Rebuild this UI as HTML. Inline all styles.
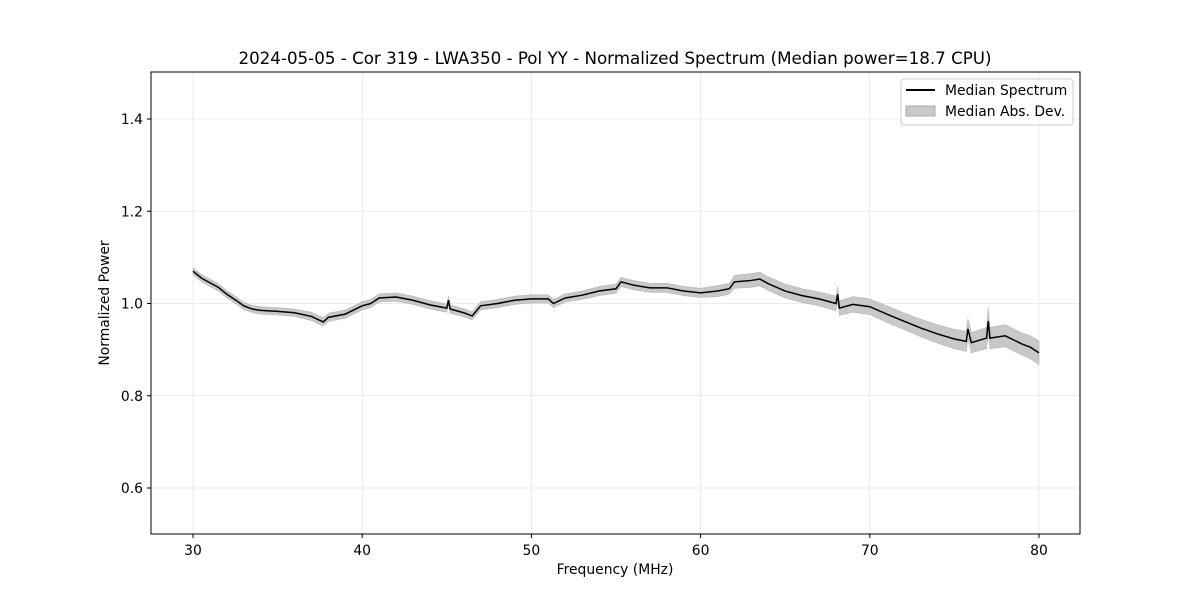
<!DOCTYPE html>
<html><head><meta charset="utf-8"><style>
body{margin:0;background:#fff;}
svg text{font-family:"DejaVu Sans","Liberation Sans",sans-serif;}
</style></head><body>
<svg id="chart" width="1200" height="600" xmlns="http://www.w3.org/2000/svg">
<rect width="1200" height="600" fill="#fff"/>
<text x="615" y="64" text-anchor="middle" font-size="16.7">2024-05-05 - Cor 319 - LWA350 - Pol YY - Normalized Spectrum (Median power=18.7 CPU)</text>
<g id="grid"></g>
<g id="band"></g>
<g id="line"></g>
<rect x="151" y="72" width="929" height="462" fill="none" stroke="#000" stroke-width="1"/>
<g id="ticks"></g>
<text x="615" y="574" text-anchor="middle" font-size="13.9">Frequency (MHz)</text>
<text transform="translate(109,303) rotate(-90)" text-anchor="middle" font-size="13.9">Normalized Power</text>
<g>
<rect x="901" y="79" width="172" height="46" rx="3" fill="#fff" stroke="#ccc" fill-opacity="0.8"/>
<line x1="906" y1="90" x2="935" y2="90" stroke="#000" stroke-width="2"/>
<text x="945" y="95" font-size="13.9">Median Spectrum</text>
<rect x="906" y="106" width="29" height="10" fill="#c8c8c8" stroke="#aaa"/>
<text x="945" y="116" font-size="13.9">Median Abs. Dev.</text>
</g>
</svg>
<script>
const freqs=[30,30.5,31,31.5,32,32.5,33,33.5,34,35,36,37,37.7,38,39,40,40.5,41,42,43,44,45,45.1,45.2,46,46.5,47,48,49,50,51,51.3,52,53,54,55,55.3,56,57,58,59,60,61,61.7,62,63,63.5,64,65,66,67,68,68.1,68.2,69,70,71,72,73,74,75,75.7,75.8,76,76.9,77,77.1,78,79,79.5,80];
const power=[1.07,1.055,1.045,1.035,1.02,1.008,0.995,0.988,0.985,0.983,0.98,0.972,0.96,0.97,0.977,0.995,1.0,1.012,1.014,1.007,0.997,0.99,1.007,0.988,0.98,0.973,0.995,1.0,1.007,1.01,1.01,1.0,1.012,1.018,1.027,1.032,1.047,1.04,1.034,1.034,1.027,1.023,1.027,1.032,1.047,1.05,1.053,1.043,1.027,1.017,1.01,1.0,1.02,0.99,0.998,0.993,0.977,0.962,0.947,0.934,0.923,0.918,0.945,0.915,0.925,0.962,0.925,0.93,0.912,0.905,0.893];
const mad=[0.008,0.008,0.008,0.008,0.008,0.008,0.008,0.008,0.008,0.008,0.008,0.009,0.009,0.009,0.009,0.009,0.009,0.009,0.009,0.009,0.009,0.009,0.009,0.009,0.009,0.009,0.009,0.009,0.009,0.009,0.009,0.009,0.009,0.009,0.01,0.01,0.01,0.01,0.01,0.01,0.01,0.01,0.012,0.012,0.014,0.015,0.015,0.015,0.015,0.015,0.015,0.016,0.016,0.016,0.017,0.017,0.018,0.018,0.019,0.02,0.021,0.022,0.022,0.022,0.023,0.03,0.023,0.024,0.024,0.025,0.026];
const xTicks=[30,40,50,60,70,80];
const yTicks=[0.6,0.8,1.0,1.2,1.4];
const yLabels=["0.6","0.8","1.0","1.2","1.4"];
const X=v=>193+(v-30)*16.92;
const Y=v=>119+(1.4-v)*461.25;
const NS="http://www.w3.org/2000/svg";
function mk(t,p,a){const e=document.createElementNS(NS,t);for(const k in a)e.setAttribute(k,a[k]);p.appendChild(e);return e;}
const grid=document.getElementById('grid'),ticks=document.getElementById('ticks');
xTicks.forEach(v=>{
 const g=mk('line',grid,{x1:X(v),x2:X(v),y1:72,y2:534,stroke:'#e6e6e6','stroke-width':0.8});
 
 
 mk('line',ticks,{x1:X(v),x2:X(v),y1:534,y2:538,stroke:'#000'});
 const t=mk('text',ticks,{x:X(v),y:555,'text-anchor':'middle','font-size':13.9});
 t.textContent=v;
 
 
});
yTicks.forEach((v,i)=>{
 const g=mk('line',grid,{x1:151,x2:1080,y1:Y(v),y2:Y(v),stroke:'#e6e6e6','stroke-width':0.8});
 
 
 mk('line',ticks,{x1:147,x2:151,y1:Y(v),y2:Y(v),stroke:'#000'});
 const t=mk('text',ticks,{x:143,y:Y(v)+5,'text-anchor':'end','font-size':13.9});
 t.textContent=yLabels[i];
 
 
});
let up=freqs.map((f,i)=>X(f)+','+Y(power[i]+mad[i]));
let dn=freqs.map((f,i)=>X(f)+','+Y(power[i]-mad[i])).reverse();
const band=mk('polygon',document.getElementById('band'),{points:up.concat(dn).join(' '),fill:'#c8c8c8',stroke:'#b0b0b0','stroke-width':0.5});


const ln=mk('polyline',document.getElementById('line'),{points:freqs.map((f,i)=>X(f)+','+Y(power[i])).join(' '),fill:'none',stroke:'#000','stroke-width':1.5});


</script>
</body></html>
